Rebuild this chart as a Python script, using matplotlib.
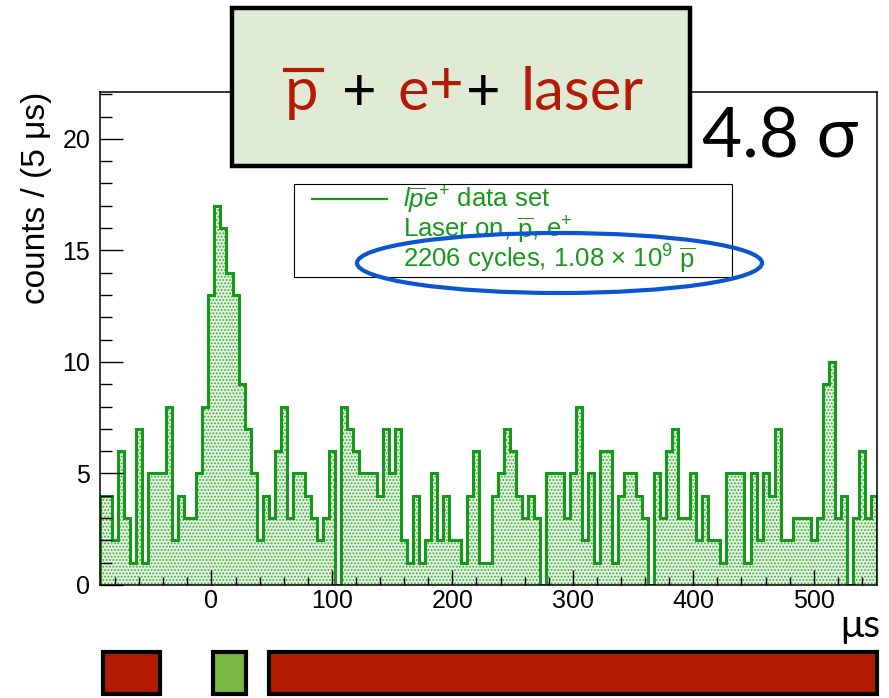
import numpy as np
import matplotlib
matplotlib.use('Agg')
import matplotlib.pyplot as plt
from matplotlib.patches import Rectangle, Ellipse
from matplotlib.lines import Line2D
from matplotlib.ticker import MultipleLocator

plt.rcParams['font.family'] = ['Liberation Sans', 'DejaVu Sans']
plt.rcParams['mathtext.fontset'] = 'custom'
plt.rcParams['mathtext.rm'] = 'Liberation Sans'
plt.rcParams['mathtext.it'] = 'Liberation Sans:italic'
plt.rcParams['hatch.color'] = '#3fa83f'
plt.rcParams['hatch.linewidth'] = 0.9

# histogram: 5 us bins from -92.5 to 552.5 us
x_min, x_max, bin_width = -92.5, 552.5, 5.0
counts = [4, 4, 2, 6, 3, 1, 7, 1, 5, 5,
          5, 8, 2, 4, 3, 3, 5, 8, 13, 17,
          16, 14, 13, 9, 7, 5, 2, 4, 3, 6,
          8, 3, 5, 5, 4, 3, 2, 3, 6, 0,
          8, 7, 6, 5, 5, 5, 4, 7, 5, 7,
          2, 1, 4, 1, 2, 5, 2, 4, 2, 2,
          1, 4, 6, 1, 1, 4, 5, 7, 6, 4,
          3, 4, 3, 0, 5, 5, 5, 3, 5, 8,
          2, 5, 1, 6, 6, 1, 4, 5, 5, 4,
          3, 0, 5, 3, 6, 7, 3, 3, 5, 2,
          4, 2, 2, 1, 5, 5, 5, 1, 5, 2,
          5, 4, 7, 2, 2, 3, 3, 3, 2, 3,
          9, 10, 3, 4, 0, 3, 6, 3, 4]
edges = np.arange(x_min, x_max + bin_width / 2, bin_width)

legend_lines = [r'$l\overline{p}e^{+}$ data set',
                r'Laser on, $\overline{\mathrm{p}}$, e$^{+}$',
                r'2206 cycles, 1.08 $\times$ 10$^{9}$ $\overline{\mathrm{p}}$']

GREEN = '#16991a'
RED = '#b21c06'

W, H = 889, 698
fig = plt.figure(figsize=(W / 100, H / 100), dpi=100)


def fx(x):
    return x / W


def fy(y):
    return 1 - y / H


def box(x0, y0, x1, y1, **kw):
    r = Rectangle((fx(x0), fy(y1)), (x1 - x0) / W, (y1 - y0) / H,
                  transform=fig.transFigure, **kw)
    fig.add_artist(r)
    return r


ax = fig.add_axes([fx(100), fy(585), (877 - 100) / W, (585 - 92) / H])
ax.stairs(counts, edges, fill=True, facecolor='#e2f2df', edgecolor='#3fa83f',
          hatch='.....', linewidth=0, zorder=1)
ax.stairs(counts, edges, color=GREEN, linewidth=2.2, baseline=0, zorder=1.5)
ax.set_xlim(x_min, x_max)
ax.set_ylim(0, 22.1)
ax.xaxis.set_major_locator(MultipleLocator(100))
ax.xaxis.set_minor_locator(MultipleLocator(20))
ax.yaxis.set_major_locator(MultipleLocator(5))
ax.yaxis.set_minor_locator(MultipleLocator(1))
ax.tick_params(axis='x', which='major', direction='in', length=11, width=1, labelsize=18, pad=3)
ax.tick_params(axis='x', which='minor', direction='in', length=5.5, width=1)
ax.tick_params(axis='y', which='major', direction='in', length=16.5, width=1, labelsize=18, pad=7)
ax.tick_params(axis='y', which='minor', direction='in', length=8.3, width=1)
for s in ax.spines.values():
    s.set_linewidth(1.1)

fig.text(fx(37), fy(92), 'counts / (5 \u03bcs)', rotation=90, ha='center', va='top', fontsize=24)
fig.text(fx(880), fy(637), '\u03bcs', ha='right', va='baseline', fontsize=28,
         family=['Lato', 'Noto Sans'])

# legend
box(294, 184, 732, 277, facecolor='white', edgecolor='black', linewidth=0.8, zorder=3)
fig.add_artist(Line2D([fx(312), fx(387)], [fy(199), fy(199)], color=GREEN, lw=1.6, zorder=4))
for i, txt in enumerate(legend_lines):
    fig.text(fx(403), fy(207 + 30 * i), txt, color=GREEN, fontsize=18.5,
             ha='left', va='baseline', zorder=4)
fig.add_artist(Ellipse((fx(559.5), fy(263)), 405 / W, 60 / H, transform=fig.transFigure,
                       fill=False, edgecolor='#0b55d0', linewidth=3, zorder=5))

# title box
box(232, 8, 690, 166, facecolor='#e0ebd5', edgecolor='black', linewidth=3.2, zorder=6)
tfont = dict(fontsize=43, family=['Lato', 'Noto Sans'], va='baseline', ha='left', zorder=7)
fig.text(fx(285), fy(110), 'p', color=RED, **tfont)
fig.add_artist(Line2D([fx(285), fx(322)], [fy(70), fy(70)], color=RED, lw=3, zorder=7))
fig.text(fx(342), fy(110), '+', color='black', **tfont)
fig.text(fx(397), fy(110), 'e', color=RED, **tfont)
fig.text(fx(429), fy(103), '+', color=RED, **tfont)
fig.text(fx(466), fy(110), '+', color='black', **tfont)
fig.text(fx(521), fy(110), 'laser', color=RED, **tfont)

fig.text(fx(702), fy(157), '4.8 \u03c3', color='black', fontsize=50,
         family=['Lato', 'Noto Sans'], ha='left', va='baseline', zorder=7)

# beam timing bars
box(103, 652, 160, 694, facecolor='#b31b00', edgecolor='black', linewidth=3)
box(213, 652, 246, 694, facecolor='#77b843', edgecolor='black', linewidth=3)
box(269, 652, 877, 694, facecolor='#b31b00', edgecolor='black', linewidth=3)

fig.savefig('out.png', dpi=100)
